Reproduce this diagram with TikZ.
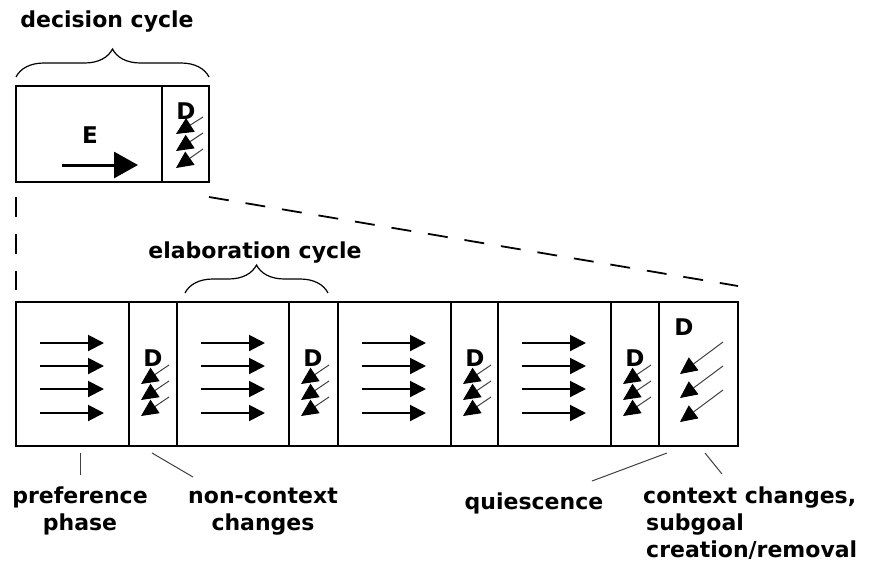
\documentclass[tikz,border=0pt]{standalone}
\usepackage{fontspec}
\setmainfont{DejaVu Sans}
\usetikzlibrary{arrows.meta,decorations.pathreplacing}
\begin{document}
\begin{tikzpicture}[x=1pt,y=-1pt,
  lbl/.style={font=\fontsize{22}{26}\selectfont\bfseries, inner sep=0pt},
  letter/.style={font=\fontsize{23}{26}\selectfont\bfseries, inner sep=0pt},
  boxline/.style={line width=1.6pt},
  earrow/.style={line width=2pt, -{Triangle[length=16pt,width=16pt]}},
  bigearrow/.style={line width=3pt, -{Triangle[length=24pt,width=26pt]}},
  darrow/.style={line width=1pt, draw=black!75, -{Triangle[length=17pt,width=16pt,color=black,fill=black]}},
  pointer/.style={line width=1pt, draw=black!75},
  dashline/.style={line width=1.8pt, dash pattern=on 20pt off 17pt},
  bracestyle/.style={line width=1.2pt, decorate, decoration={brace, amplitude=28pt}},
]
\useasboundingbox (0,0) rectangle (873,566);

% ---- top box (decision cycle) ----
\draw[boxline] (16,86) rectangle (209,182);
\draw[boxline] (162,86) -- (162,182);
\node[letter] (topE) at (90,135) {E};
\coordinate (topEs) at (62,165);
\coordinate (topEt) at (138,165);
\draw[bigearrow] (topEs) -- (topEt);
\node[letter] (topD) at (186,111) {D};
\foreach \k in {0,1,2} {
  \coordinate (tds\k) at (203,{117+16*\k});
  \coordinate (tdt\k) at (176,{134+17*\k});
  \draw[darrow] (tds\k) -- (tdt\k);
}

% brace + label
\node[lbl, anchor=base] (dec) at (107,27) {decision cycle};
\coordinate (db1) at (16,77);
\coordinate (db2) at (209,77);
\draw[bracestyle] (db1) -- (db2);

% ---- dashed zoom lines ----
\coordinate (zl1) at (16,197);
\coordinate (zl2) at (16,290);
\coordinate (zr1) at (209,197);
\coordinate (zr2) at (738,286);
\draw[dashline] (zl1) -- (zl2);
\draw[dashline] (zr1) -- (zr2);

% ---- bottom box ----
\draw[boxline] (16,302) rectangle (738,446);
\foreach \x in {129,177,289,338,451,498,611,659} {
  \draw[boxline] (\x,302) -- (\x,446);
}
% E segments
\foreach \L [count=\i] in {16,177,338,498} {
  \foreach \y [count=\j] in {343,366,389,413} {
    \coordinate (es\i\j) at ({\L+24},\y);
    \coordinate (et\i\j) at ({\L+88},\y);
    \draw[earrow] (es\i\j) -- (et\i\j);
  }
}
% small D segments
\foreach \L [count=\i] in {129,289,451,611} {
  \node[letter] (sD\i) at ({\L+24},358) {D};
  \foreach \k in {0,1,2} {
    \coordinate (sds\i\k) at ({\L+40},{365+16*\k});
    \coordinate (sdt\i\k) at ({\L+12},{384+16*\k});
    \draw[darrow] (sds\i\k) -- (sdt\i\k);
  }
}
% big D segment
\node[letter] (bigD) at (684,327) {D};
\foreach \k in {0,1,2} {
  \coordinate (bds\k) at (723,{342+24*\k});
  \coordinate (bdt\k) at (680,{374+24*\k});
  \draw[darrow] (bds\k) -- (bdt\k);
}

% elaboration brace + label
\node[lbl, anchor=base] (elab) at (255,258) {elaboration cycle};
\coordinate (eb1) at (185,293);
\coordinate (eb2) at (328,293);
\draw[bracestyle] (eb1) -- (eb2);

% ---- bottom labels ----
\node[lbl, anchor=base] (pref1) at (80,503) {preference};
\node[lbl, anchor=base] (pref2) at (80,530) {phase};
\node[lbl, anchor=base] (nc1) at (263,503) {non-context};
\node[lbl, anchor=base] (nc2) at (263,530) {changes};
\node[lbl, anchor=base] (qui) at (534,509) {quiescence};
\node[lbl, anchor=base west] (cc1) at (643,503) {context changes,};
\node[lbl, anchor=base west] (cc2) at (646,530) {subgoal};
\node[lbl, anchor=base west] (cc3) at (646,557) {creation/removal};

% pointers
\coordinate (p1a) at (80,453);  \coordinate (p1b) at (80,475);
\coordinate (p2a) at (152,453); \coordinate (p2b) at (193,477);
\coordinate (p3a) at (667,453); \coordinate (p3b) at (592,481);
\coordinate (p4a) at (705,453); \coordinate (p4b) at (722,474);
\draw[pointer] (p1a) -- (p1b);
\draw[pointer] (p2a) -- (p2b);
\draw[pointer] (p3a) -- (p3b);
\draw[pointer] (p4a) -- (p4b);
\end{tikzpicture}
\end{document}
